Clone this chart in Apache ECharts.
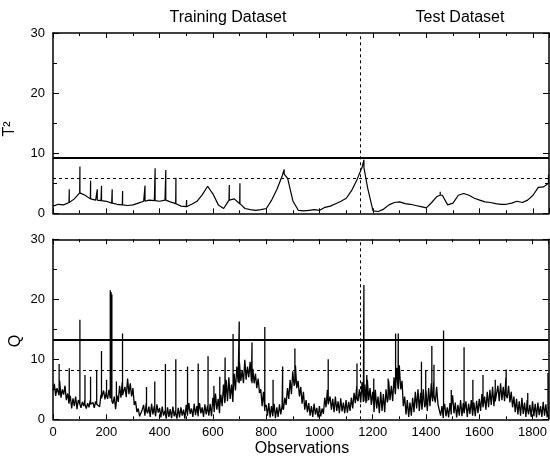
<!DOCTYPE html>
<html><head><meta charset="utf-8">
<script src="https://cdn.jsdelivr.net/npm/echarts@6/dist/echarts.min.js"></script>
<style>html,body{margin:0;padding:0;background:#fff}#c{width:550px;height:459px}</style>
</head><body><div id="c"></div><script>
// ---------- data ----------
const X_MAX = 1860;
const xTickStep = 200;
const yTickStep = 10;
const splitObs = 1152;           // training / test boundary
const t2Limit = 9.2, t2Warn = 5.9;
const qLimit = 13.2, qWarn = 8.2;

const T2_STEP = 20;
const t2Values = [
 1.2,1.5,1.4,1.8,2.4,3.4,3.0,2.4,2.2,2.1,
 2.0,1.7,1.5,1.4,1.3,1.4,1.7,2.0,2.2,2.1,
 2.0,2.2,1.9,1.6,1.2,1.1,1.5,2.0,3.1,4.5,
 3.2,1.4,0.8,2.2,2.4,1.6,0.8,0.6,0.5,0.6,
 0.8,2.2,4.0,6.3,5.8,2.0,0.5,0.4,0.5,0.6,
 0.5,1.0,1.2,1.6,2.0,2.5,3.8,5.6,7.8,4.2,
 0.4,0.3,0.7,1.4,1.8,1.9,1.6,1.5,1.3,1.1,
 0.9,1.8,2.8,3.0,1.4,1.7,3.0,3.3,3.0,2.5,
 2.2,1.9,1.8,1.6,1.5,1.5,1.7,2.0,1.8,2.2,
 3.0,4.3,4.4,5.0
];
const t2SpikeObs  = [61,101,141,166,182,222,261,345,383,423,461,501,582,661,701,867,1166,1452,1858];
const t2SpikeBase = [1.8,3.4,2.4,2.2,2.1,1.7,1.4,2.0,2.1,2.2,1.6,1.1,4.5,2.2,1.6,6.5,7.6,3.0,5.0];
const t2SpikePeak = [4.0,7.8,5.4,4.0,4.6,4.0,3.7,4.6,7.5,7.2,5.9,2.2,4.7,4.7,5.0,7.3,8.9,3.6,6.4];

const Q_STEP = 5;
const qValues = [
 4.8,5.9,3.9,5.2,4.4,6.4,3.6,5.0,4.1,5.6,3.2,4.3,2.6,3.9,1.8,3.5,2.2,3.8,1.7,3.2,
 3.1,1.9,2.9,2.2,3.3,1.8,2.7,2.0,3.2,2.4,2.8,1.9,3.0,2.3,2.6,2.1,4.1,3.6,4.8,3.3,
 4.6,3.4,4.9,3.5,4.2,2.6,3.8,1.7,4.0,2.9,5.6,3.6,6.2,4.1,5.4,3.7,6.8,4.2,6.0,3.8,
 5.2,2.4,3.0,1.2,1.8,0.5,0.4,1.6,2.4,0.6,2.7,1.0,2.1,0.4,2.6,0.8,2.2,0.5,2.5,1.1,
 1.9,0.3,2.1,0.6,1.4,0.1,2.0,0.4,1.7,0.2,2.1,0.5,1.5,0.1,1.9,0.3,2.0,0.6,1.6,0.1,
 2.4,0.6,2.7,0.9,1.8,0.4,2.6,0.7,2.2,0.5,2.7,1.0,2.0,0.4,2.5,0.8,2.3,0.6,2.6,0.5,
 3.6,1.2,4.3,1.6,3.4,1.0,4.1,2.2,5.8,2.7,6.6,3.0,7.0,3.4,5.8,2.9,7.6,4.8,8.8,6.2,
 9.4,6.4,8.2,6.0,9.9,6.6,8.8,7.0,9.6,6.3,8.4,6.0,7.6,5.2,6.8,4.4,5.0,2.2,4.6,1.4,
 2.4,0.6,2.7,0.3,2.2,0.5,2.6,0.2,2.0,0.4,2.5,0.8,2.3,1.6,3.6,2.4,5.2,3.4,6.6,4.2,
 8.0,5.6,9.0,5.2,6.4,3.8,5.4,2.6,4.6,1.6,3.2,1.2,2.7,0.6,2.2,0.4,2.6,0.8,1.9,0.3,
 2.2,0.5,1.8,0.9,3.6,2.0,4.9,2.4,3.8,1.6,3.4,1.2,3.8,1.4,3.0,1.0,3.5,1.3,2.8,1.0,
 3.2,1.1,2.9,1.4,3.6,1.8,4.4,2.7,5.4,3.0,5.0,2.8,6.2,2.9,5.8,2.7,6.6,3.2,5.2,2.4,
 4.6,1.2,4.9,1.8,3.8,1.0,4.6,1.4,4.2,1.2,5.0,2.8,6.4,3.2,5.6,3.0,7.0,4.2,8.6,5.2,
 9.0,5.0,6.4,2.2,3.8,0.8,3.2,0.4,2.8,0.6,3.6,1.2,4.6,1.8,5.0,1.4,4.4,1.6,5.0,2.0,
 4.8,1.4,5.2,2.2,6.0,3.0,6.5,2.8,5.4,2.5,2.7,0.6,2.2,0.2,2.6,0.5,2.0,0.3,2.7,0.8,
 4.0,1.0,2.8,0.3,2.4,0.6,3.2,0.5,2.7,0.8,3.0,0.4,2.6,0.9,3.2,0.6,2.8,0.5,3.1,1.0,
 3.4,1.4,4.2,1.8,3.8,1.6,4.6,2.0,4.9,2.4,5.4,2.2,5.0,2.8,5.6,3.0,6.0,3.2,5.4,3.0,
 7.0,3.5,5.6,2.8,4.6,2.0,3.8,1.2,3.4,0.8,3.0,0.6,3.6,0.9,2.8,0.4,3.2,0.8,2.4,0.4,
 3.0,0.5,2.6,0.3,2.8,0.7,2.2,0.4,2.9,0.6,2.5,0.3,2.2
];
const qSpikeObs  = [23,61,101,120,141,164,182,201,215,218,221,238,261,351,382,422,461,505,545,582,604,626,646,676,699,747,795,826,862,908,1033,1141,1167,1178,1204,1258,1286,1296,1383,1399,1422,1430,1466,1495,1543,1576,1614,1660,1701,1782,1858];
const qSpikeBase = [4,3,2.5,2.5,2.5,2.5,3.5,4,3.5,3.5,3,3,4,1.5,1.5,1,1,1,1,1.5,2,2,3,4,6,6,2,1,2,6,2.5,3.5,3,3,2.5,3.5,5,5,2.5,2.5,4,4,1.5,2,1,1,2,3,4,1.5,1.5];
const qSpikePeak = [9.2,8.5,16.6,7.4,7.1,8.2,11.4,6.6,21.5,21.2,20.8,6.3,14.3,5.4,6.3,9.2,10.0,8.8,9.3,10.5,5.6,7.1,10.3,14.2,16.3,12.8,15.4,6.6,8.8,11.8,10.0,9.3,22.4,7.4,6.8,6.8,14.3,14.3,9.6,8.2,12.2,9.1,14.8,4.9,12.0,6.6,7.4,6.6,8.3,4.4,7.7];

// ---------- build ----------
function build(step, vals, sObs, sBase, sPeak){
  const pts = vals.map((v,i)=>[i*step, v, 0]);
  sObs.forEach((x,k)=>{ pts.push([x,sBase[k],1],[x,sPeak[k],2],[x,sBase[k],3]); });
  pts.sort((a,b)=> (a[0]-b[0]) || (a[2]-b[2]));
  return pts.map(p=>[p[0],p[1]]);
}
const t2Data = build(T2_STEP, t2Values, t2SpikeObs, t2SpikeBase, t2SpikePeak);
const qData  = build(Q_STEP, qValues, qSpikeObs, qSpikeBase, qSpikePeak);

const FONT = 'Liberation Sans, Arial, sans-serif';
const grids = [
  {left:53, top:33, width:496, height:180.3},
  {left:53, top:239.3, width:496, height:180}
];
function xAx(gi, pos, showLabel){
  return {type:'value', gridIndex:gi, position:pos, min:0, max:X_MAX, interval:xTickStep,
    axisLine:{show:true, onZero:false, lineStyle:{color:'#000', width:1.5}},
    axisTick:{show:true, inside:true, length:5, lineStyle:{color:'#000', width:1}},
    minorTick:{show:true, splitNumber:2, length:3, lineStyle:{color:'#000', width:1}},
    axisLabel:{show:showLabel, color:'#000', fontSize:13, fontFamily:FONT, margin:7, showMaxLabel:false,
      formatter: v => String(v)},
    splitLine:{show:false}};
}
function yAx(gi, pos, showLabel){
  return {type:'value', gridIndex:gi, position:pos, min:0, max:30, interval:yTickStep,
    axisLine:{show:true, onZero:false, lineStyle:{color:'#000', width:1.5}},
    axisTick:{show:true, inside:true, length:6, lineStyle:{color:'#000', width:1}},
    minorTick:{show:true, splitNumber:2, length:4, lineStyle:{color:'#000', width:1}},
    axisLabel:{show:showLabel, color:'#000', fontSize:13, fontFamily:FONT, margin:8},
    splitLine:{show:false}};
}
function marks(limit, warn){
  return {silent:true, symbol:'none', label:{show:false}, animation:false,
    data:[
      {yAxis:limit, lineStyle:{color:'#000', width:2, type:'solid'}},
      {yAxis:warn, lineStyle:{color:'#000', width:1, type:[3,3]}},
      {xAxis:splitObs, lineStyle:{color:'#000', width:1, type:[3,3]}}
    ]};
}
const option = {
  animation:false,
  backgroundColor:'#fff',
  grid: grids,
  xAxis:[xAx(0,'bottom',false), xAx(0,'top',false), xAx(1,'bottom',true), xAx(1,'top',false)],
  yAxis:[yAx(0,'left',true), yAx(0,'right',false), yAx(1,'left',true), yAx(1,'right',false)],
  series:[
    {type:'line', xAxisIndex:0, yAxisIndex:0, data:t2Data, showSymbol:false, symbol:'none',
     lineStyle:{color:'#000', width:1.2}, markLine:marks(t2Limit, t2Warn)},
    {type:'line', xAxisIndex:2, yAxisIndex:2, data:qData, showSymbol:false, symbol:'none',
     lineStyle:{color:'#000', width:1.3}, markLine:marks(qLimit, qWarn)}
  ],
  graphic:[
    {type:'text', x:228, y:18, style:{text:'Training Dataset', font:'16px '+FONT, fill:'#000', textAlign:'center', textVerticalAlign:'middle', verticalAlign:'middle'}},
    {type:'text', x:460, y:18, style:{text:'Test Dataset', font:'16px '+FONT, fill:'#000', textAlign:'center', textVerticalAlign:'middle', verticalAlign:'middle'}},
    {type:'text', x:302, y:449, style:{text:'Observations', font:'16px '+FONT, fill:'#000', textAlign:'center', textVerticalAlign:'middle', verticalAlign:'middle'}},
    {type:'text', x:10, y:129, rotation:Math.PI/2, style:{text:'T²', font:'16px '+FONT, fill:'#000', textAlign:'center', textVerticalAlign:'middle', verticalAlign:'middle'}},
    {type:'text', x:16, y:341, rotation:Math.PI/2, style:{text:'Q', font:'16px '+FONT, fill:'#000', textAlign:'center', textVerticalAlign:'middle', verticalAlign:'middle'}}
  ]
};
echarts.init(document.getElementById('c'), null, {renderer:'canvas'}).setOption(option);
</script></body></html>
